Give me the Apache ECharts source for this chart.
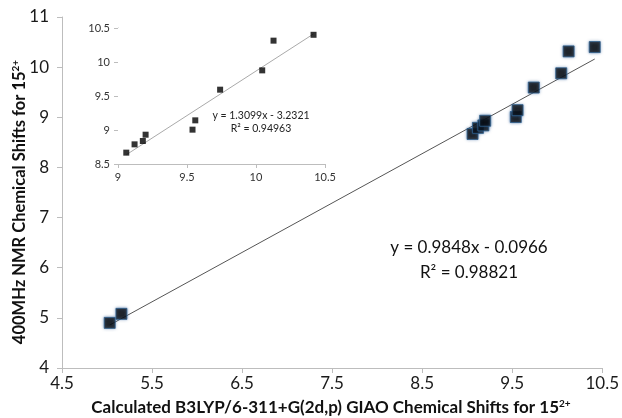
<!DOCTYPE html>
<html>
<head>
<meta charset="utf-8">
<script src="https://cdn.jsdelivr.net/npm/echarts@6/dist/echarts.min.js"></script>
<style>
  html, body { margin: 0; padding: 0; background: #fff; }
  #chart { width: 622px; height: 418px; }
</style>
</head>
<body>
<div id="chart"></div>
<script>
// calculated (GIAO) vs measured (400MHz NMR) shifts
const calcShift = [5.03, 5.16, 9.06, 9.12, 9.18, 9.20, 9.54, 9.56, 9.74, 10.045, 10.127, 10.417];
const nmrShift  = [4.90, 5.08, 8.667, 8.789, 8.838, 8.931, 9.005, 9.142, 9.593, 9.877, 10.314, 10.40];

// fits as printed on the chart
const mainFit  = { slope: 0.9848, icept: -0.0966, r2: '0.98821' };
const insetFit = { slope: 1.3099, icept: -3.2321, r2: '0.94963' };

const FONT = 'Lato';

let pts = calcShift.map((x, i) => [x, nmrShift[i]]);
let insetPts = pts.filter(p => p[0] >= 9);

function fitLine(data, fit) {
    let xs = data.map(p => p[0]);
    let x0 = Math.min(...xs), x1 = Math.max(...xs);
    return [[x0, fit.slope * x0 + fit.icept], [x1, fit.slope * x1 + fit.icept]];
}

function fmtEq(fit) {
    let sign = fit.icept < 0 ? ' - ' : ' + ';
    return 'y = ' + fit.slope.toFixed(4) + 'x' + sign + Math.abs(fit.icept).toFixed(4);
}

let myChart = echarts.init(document.getElementById('chart'));

let axisGray = { lineStyle: { color: '#bdbdbd', width: 1 } };

let opt = {
    animation: false,
    grid: [
        { left: 62, right: 16, top: 17, bottom: 50 },
        { left: 118, right: 297, top: 28, bottom: 254, z: 5, backgroundColor: '#fff', show: true, borderWidth: 0 }
    ],
    xAxis: [
        {
            gridIndex: 0, type: 'value', min: 4.5, max: 10.5, interval: 1,
            axisLine: axisGray, axisTick: { length: 5, lineStyle: { color: '#bdbdbd' } },
            splitLine: { show: false },
            axisLabel: { fontFamily: FONT, fontSize: 17, color: '#1a1a1a', margin: 7,
                formatter: v => v.toFixed(1) }
        },
        {
            gridIndex: 1, type: 'value', min: 9, max: 10.5, interval: 0.5,
            axisLine: axisGray, axisTick: { length: 4, lineStyle: { color: '#bdbdbd' } },
            splitLine: { show: false },
            axisLabel: { fontFamily: FONT, fontSize: 11, color: '#333', margin: 8 }
        }
    ],
    yAxis: [
        {
            gridIndex: 0, type: 'value', min: 4, max: 11, interval: 1,
            axisLine: { show: true, lineStyle: { color: '#bdbdbd' } },
            axisTick: { show: true, length: 5, lineStyle: { color: '#bdbdbd' } },
            splitLine: { show: false },
            axisLabel: { fontFamily: FONT, fontSize: 17, color: '#1a1a1a', margin: 13 }
        },
        {
            gridIndex: 1, type: 'value', min: 8.5, max: 10.5, interval: 0.5,
            axisLine: { show: true, lineStyle: { color: '#bdbdbd' } },
            axisTick: { show: true, length: 4, lineStyle: { color: '#bdbdbd' } },
            splitLine: { show: false },
            axisLabel: { fontFamily: FONT, fontSize: 11, color: '#333', margin: 8 }
        }
    ],
    series: [
        {
            type: 'line', xAxisIndex: 0, yAxisIndex: 0,
            data: fitLine(pts, mainFit), symbol: 'none',
            lineStyle: { color: '#555', width: 1 }, z: 2
        },
        {
            type: 'scatter', xAxisIndex: 0, yAxisIndex: 0,
            data: pts, symbol: 'rect', symbolSize: 11,
            itemStyle: { color: '#050505', borderColor: '#2e5f8c', borderWidth: 1,
                shadowColor: 'rgba(40,90,150,0.7)', shadowBlur: 3 },
            z: 3
        },
        {
            type: 'line', xAxisIndex: 1, yAxisIndex: 1,
            data: fitLine(insetPts, insetFit), symbol: 'none',
            lineStyle: { color: '#aaa', width: 1 }, z: 6
        },
        {
            type: 'scatter', xAxisIndex: 1, yAxisIndex: 1,
            data: insetPts, symbol: 'rect', symbolSize: 6,
            itemStyle: { color: '#000' }, z: 7
        }
    ],
    graphic: [
        {
            type: 'text', x: 331, y: 408, z: 10,
            style: {
                text: '{b|Calculated B3LYP/6-311+G(2d,p) GIAO Chemical Shifts for 15}{s|2+}',
                align: 'center', verticalAlign: 'middle',
                rich: {
                    b: { fontFamily: FONT, fontWeight: 'bold', fontSize: 17, fill: '#111' },
                    s: { fontFamily: FONT, fontWeight: 'bold', fontSize: 10, fill: '#111', padding: [0, 0, 9, 0] }
                }
            }
        },
        {
            type: 'text', x: 20, y: 202, rotation: Math.PI / 2, z: 10,
            style: {
                text: '{b|400MHz NMR Chemical Shifts for 15}{s|2+}',
                align: 'center', verticalAlign: 'middle',
                rich: {
                    b: { fontFamily: FONT, fontWeight: 'bold', fontSize: 16.5, fill: '#111' },
                    s: { fontFamily: FONT, fontWeight: 'bold', fontSize: 10, fill: '#111', padding: [0, 0, 9, 0] }
                }
            }
        },
        {
            type: 'text', x: 469, y: 260, z: 10,
            style: { text: fmtEq(mainFit) + '\nR² = ' + mainFit.r2, align: 'center', verticalAlign: 'middle',
                fontFamily: FONT, fontSize: 17, lineHeight: 25, fill: '#111' }
        },
        {
            type: 'text', x: 261, y: 122, z: 10,
            style: { text: fmtEq(insetFit) + '\nR² = ' + insetFit.r2, align: 'center', verticalAlign: 'middle',
                fontFamily: FONT, fontSize: 10.5, lineHeight: 13, fill: '#222' }
        }
    ]
};

myChart.setOption(opt);
</script>
</body>
</html>
